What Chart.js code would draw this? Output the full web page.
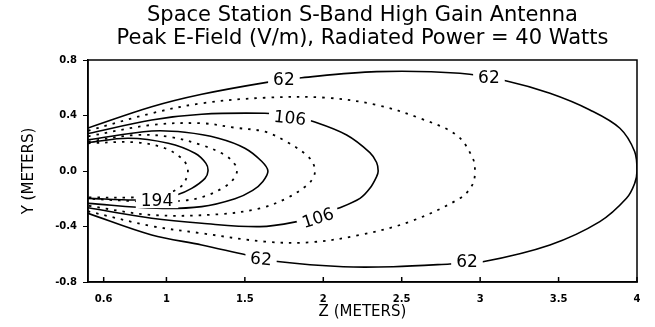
<!DOCTYPE html>
<html>
<head>
<meta charset="utf-8">
<script src="https://cdn.jsdelivr.net/npm/chart.js@4"></script>
<style>
  html, body { margin: 0; padding: 0; background: #fff; }
</style>
</head>
<body>
<canvas id="chart" width="655" height="327"></canvas>
<script>
// Title lines
const titleLines = ['Space Station S-Band High Gain Antenna', 'Peak E-Field (V/m), Radiated Power = 40 Watts'];

// Axis ticks
const xTickValues = [0.6, 1, 1.5, 2, 2.5, 3, 3.5, 4];
const xTickLabels = ['0.6', '1', '1.5', '2', '2.5', '3', '3.5', '4'];
const yTickValues = [-0.8, -0.4, 0, 0.4, 0.8];
const yTickLabels = ['-0.8', '-0.4', '0.0', '0.4', '0.8'];

// Contour lines, [z, y] in meters, traced top-left -> nose -> bottom-left
const c62 = [[0.5, 0.31], [0.906, 0.463], [1.225, 0.553], [1.639, 0.639], [1.862, 0.672], [2.34, 0.716], [2.871, 0.704],
  [3.169, 0.649], [3.445, 0.56], [3.7, 0.44], [3.891, 0.308], [3.985, 0.14], [4.0, 0.0], [3.985, -0.09], [3.933, -0.197],
  [3.763, -0.365], [3.445, -0.533], [3.017, -0.654], [2.807, -0.67], [2.446, -0.69], [2.127, -0.69], [1.724, -0.654],
  [1.511, -0.605], [1.225, -0.533], [0.906, -0.461], [0.5, -0.305]];
const c84 = [[0.5, 0.29], [0.906, 0.416], [1.225, 0.488], [1.628, 0.528], [2.021, 0.528], [2.34, 0.476], [2.616, 0.38],
  [2.85, 0.259], [2.95, 0.1], [2.967, 0.0], [2.95, -0.1], [2.871, -0.197], [2.552, -0.365], [2.234, -0.461],
  [1.915, -0.514], [1.628, -0.509], [1.225, -0.449], [0.906, -0.397], [0.5, -0.29]];
const c106 = [[0.5, 0.27], [0.906, 0.368], [1.225, 0.409], [1.628, 0.416], [1.787, 0.4], [1.936, 0.356], [2.149, 0.259],
  [2.297, 0.132], [2.34, 0.061], [2.35, 0.0], [2.34, -0.04], [2.297, -0.125], [2.234, -0.197], [2.095, -0.269],
  [1.966, -0.32], [1.83, -0.365], [1.596, -0.401], [1.225, -0.377], [0.906, -0.341], [0.5, -0.265]];
const c128 = [[0.5, 0.25], [0.906, 0.332], [1.225, 0.344], [1.437, 0.312], [1.628, 0.283], [1.766, 0.211], [1.894, 0.115],
  [1.935, 0.055], [1.947, 0.0], [1.935, -0.05], [1.894, -0.105], [1.766, -0.197], [1.596, -0.269], [1.331, -0.312],
  [0.906, -0.317], [0.5, -0.25]];
const c150 = [[0.5, 0.225], [0.906, 0.288], [1.118, 0.279], [1.331, 0.236], [1.5, 0.164], [1.607, 0.07], [1.647, 0.0],
  [1.615, -0.075], [1.55, -0.14], [1.437, -0.2], [1.225, -0.257], [0.938, -0.269], [0.5, -0.233]];
const c172 = [[0.5, 0.212], [0.8, 0.259], [1.012, 0.247], [1.225, 0.187], [1.373, 0.115], [1.435, 0.05], [1.45, 0.0],
  [1.43, -0.055], [1.37, -0.115], [1.25, -0.18], [1.118, -0.212], [0.906, -0.221], [0.5, -0.2]];
const c194 = [[0.5, 0.205], [0.757, 0.236], [1.012, 0.2], [1.182, 0.128], [1.252, 0.055], [1.265, 0.0], [1.246, -0.053],
  [1.161, -0.125], [1.065, -0.173], [0.94, -0.205], [0.8, -0.209], [0.5, -0.197]];
const c216 = [[0.5, 0.2], [0.8, 0.207], [0.991, 0.164], [1.097, 0.092], [1.128, 0.045], [1.137, 0.0], [1.128, -0.05],
  [1.097, -0.108], [1.0, -0.165], [0.8, -0.19], [0.5, -0.19]];

// Contour labels
const labelText = ['62', '62', '106', '194', '106', '62', '62'];
const labelZ = [1.749, 3.056, 1.787, 0.94, 1.966, 1.603, 2.916];
const labelY = [0.656, 0.67, 0.382, -0.21, -0.339, -0.634, -0.656];
const labelAngle = [0, 0, 6, 0, -18, 4, 0];

const solid = { borderDash: [], borderWidth: 1.6 };
const dotted = { borderDash: [2.5, 6], borderWidth: 1.8 };

function contour(pts, style) {
  return Object.assign({
    data: pts.map(p => ({ x: p[0], y: p[1] })),
    showLine: true,
    borderColor: '#000',
    pointRadius: 0,
    tension: 0.35,
    fill: false
  }, style);
}

const font = '"DejaVu Sans", sans-serif';

// Frame, inward z ticks, contour labels and the two line title
const decor = {
  id: 'decor',
  afterDatasetsDraw(chart) {
    const { ctx, chartArea: a, scales: { x, y } } = chart;
    ctx.save();
    ctx.strokeStyle = '#000';
    ctx.lineWidth = 1.5;
    ctx.strokeRect(a.left, a.top, a.right - a.left, a.bottom - a.top);
    xTickValues.forEach(v => {
      const px = x.getPixelForValue(v);
      ctx.beginPath();
      ctx.moveTo(px, a.bottom);
      ctx.lineTo(px, a.bottom - 5);
      ctx.stroke();
    });
    ctx.font = '17px ' + font;
    ctx.textAlign = 'center';
    ctx.textBaseline = 'middle';
    labelText.forEach((t, i) => {
      const px = x.getPixelForValue(labelZ[i]);
      const py = y.getPixelForValue(labelY[i]);
      ctx.save();
      ctx.translate(px, py);
      ctx.rotate(labelAngle[i] * Math.PI / 180);
      const w = ctx.measureText(t).width;
      ctx.fillStyle = '#fff';
      ctx.fillRect(-w / 2 - 5, -8, w + 10, 16);
      ctx.fillStyle = '#000';
      ctx.fillText(t, 0, 1);
      ctx.restore();
    });
    ctx.font = '21px ' + font;
    ctx.fillStyle = '#000';
    const cx = (a.left + a.right) / 2;
    ctx.fillText(titleLines[0], cx, 16);
    ctx.fillText(titleLines[1], cx, 39);
    ctx.restore();
  }
};

new Chart(document.getElementById('chart'), {
  type: 'scatter',
  data: {
    datasets: [
      contour(c62, solid), contour(c84, dotted), contour(c106, solid), contour(c128, dotted),
      contour(c150, solid), contour(c172, dotted), contour(c194, solid), contour(c216, dotted)
    ]
  },
  options: {
    responsive: false,
    animation: false,
    devicePixelRatio: 1,
    layout: { padding: { top: 60, right: 18, left: 0, bottom: 0 } },
    plugins: { legend: { display: false }, tooltip: { enabled: false }, title: { display: false } },
    scales: {
      x: {
        type: 'linear', min: 0.5, max: 4,
        afterBuildTicks: s => { s.ticks = xTickValues.map(v => ({ value: v })); },
        afterFit: s => { s.height = 45; },
        ticks: {
          autoSkip: false, maxRotation: 0, padding: 3, color: '#000',
          font: { family: font, size: 10, weight: 'bold' },
          callback: (v, i) => xTickLabels[i]
        },
        grid: { display: false },
        border: { display: true, color: '#000', width: 1.5 },
        title: { display: true, text: 'Z (METERS)', color: '#000', font: { family: font, size: 15 }, padding: { top: 0, bottom: 6 } }
      },
      y: {
        type: 'linear', min: -0.8, max: 0.8,
        afterBuildTicks: s => { s.ticks = yTickValues.map(v => ({ value: v })); },
        afterFit: s => { s.width = 88; },
        ticks: {
          autoSkip: false, padding: 6, color: '#000',
          font: { family: font, size: 10, weight: 'bold' },
          callback: (v, i) => yTickLabels[i]
        },
        grid: { drawOnChartArea: false, color: '#000', tickLength: 5 },
        border: { display: true, color: '#000', width: 1.5 },
        title: { display: true, text: 'Y (METERS)', color: '#000', font: { family: font, size: 15 }, padding: { top: 20, bottom: 0 } }
      }
    }
  },
  plugins: [decor]
});
</script>
</body>
</html>
